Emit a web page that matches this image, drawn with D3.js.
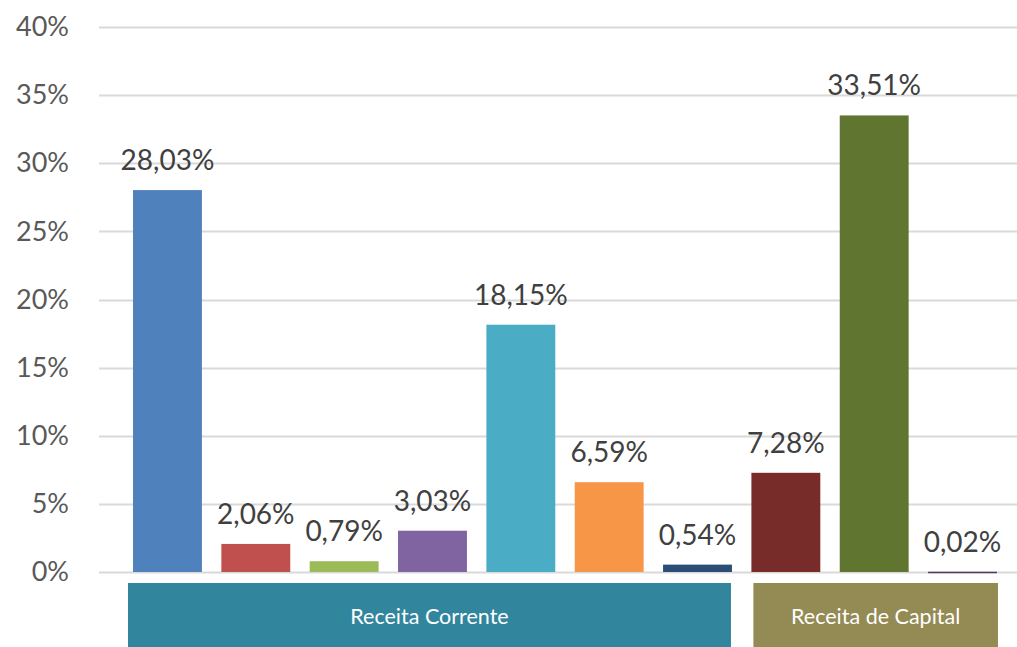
<!DOCTYPE html>
<html>
<head>
<meta charset="utf-8">
<script src="https://cdn.jsdelivr.net/npm/d3@7"></script>
<style>
  body { margin: 0; background: #fff; }
  text { font-family: Lato, "Open Sans", sans-serif; }
</style>
</head>
<body>
<div id="graph"></div>
<script>

// data
var bars = ["r1", "r2", "r3", "r4", "r5", "r6", "r7", "c1", "c2", "c3"];
var values = [28.03, 2.06, 0.79, 3.03, 18.15, 6.59, 0.54, 7.28, 33.51, 0.02];
var colors = ["#4F81BD", "#C0504D", "#9BBB59", "#8064A2", "#4BACC6", "#F79646",
              "#2C4D75", "#772C2A", "#5F7530", "#4D3B62"];
var groups = ["Receita Corrente", "Receita de Capital"];
var groupBars = [["r1", "r7"], ["c1", "c3"]];
var groupColors = ["#31859C", "#948A54"];
var yTicks = [0, 5, 10, 15, 20, 25, 30, 35, 40];

var width = 1017, height = 647;

var svg = d3.select("#graph")
  .append("svg")
    .attr("width", width)
    .attr("height", height);

var x = d3.scaleBand()
  .domain(bars)
  .range([123.3, 1006.7])
  .paddingInner(0.22)
  .paddingOuter(0.11);

var y = d3.scaleLinear()
  .domain([0, 40])
  .range([572, 27]);

// gridlines
svg.append("g")
  .selectAll("line")
  .data(yTicks)
  .enter()
  .append("line")
    .attr("x1", 99)
    .attr("x2", width)
    .attr("y1", function(d) { return Math.round(y(d)) + 0.5; })
    .attr("y2", function(d) { return Math.round(y(d)) + 0.5; })
    .attr("stroke", "#d9d9d9")
    .attr("stroke-width", 2);

// y axis labels
var yAxis = svg.append("g")
  .attr("transform", "translate(69,0)")
  .call(d3.axisLeft(y).tickValues(yTicks).tickSize(0).tickPadding(0)
    .tickFormat(function(d) { return d + "%"; }));
yAxis.select(".domain").remove();
yAxis.selectAll("text")
  .attr("fill", "#595959")
  .style("font-size", "27px")
  .style("font-family", "Lato, sans-serif");

// bars
svg.append("g")
  .selectAll("rect")
  .data(values)
  .enter()
  .append("rect")
    .attr("x", function(d, i) { return x(bars[i]); })
    .attr("y", function(d) { return y(d); })
    .attr("width", x.bandwidth())
    .attr("height", function(d) { return Math.max(1.5, y(0) - y(d)); })
    .attr("fill", function(d, i) { return colors[i]; });

// value labels
svg.append("g")
  .selectAll("text")
  .data(values)
  .enter()
  .append("text")
    .attr("x", function(d, i) { return x(bars[i]) + x.bandwidth() / 2; })
    .attr("y", function(d) { return y(d) - 20; })
    .attr("text-anchor", "middle")
    .attr("fill", "#404040")
    .style("font-size", "28px")
    .text(function(d) { return d3.format(".2f")(d).replace(".", ",") + "%"; });

// category boxes (small offsets like the original layout)
var padL = [5, -2], padR = [-1, 1];

var g = svg.append("g")
  .selectAll("g")
  .data(groups)
  .enter()
  .append("g");

g.append("rect")
  .attr("x", function(d, i) { return x(groupBars[i][0]) - padL[i]; })
  .attr("y", 583)
  .attr("width", function(d, i) {
    return x(groupBars[i][1]) + x.bandwidth() + padR[i] - (x(groupBars[i][0]) - padL[i]);
  })
  .attr("height", 64)
  .attr("fill", function(d, i) { return groupColors[i]; });

g.append("text")
  .attr("x", function(d, i) { return (x(groupBars[i][0]) - padL[i] + x(groupBars[i][1]) + x.bandwidth() + padR[i]) / 2; })
  .attr("y", 624)
  .attr("text-anchor", "middle")
  .attr("fill", "#fff")
  .style("font-size", "21.5px")
  .text(function(d) { return d; });

</script>
</body>
</html>
